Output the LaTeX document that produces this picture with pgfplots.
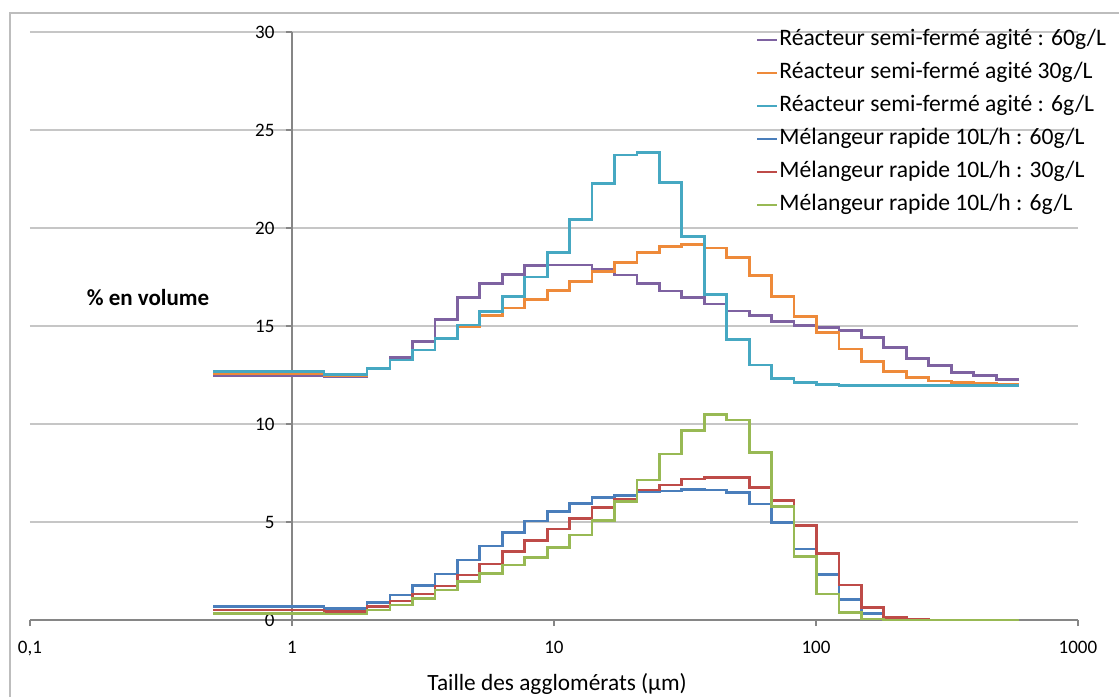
\documentclass[border=0pt]{standalone}
\usepackage{pgfplots}
\usepackage{pgfplotstable}
\pgfplotsset{compat=1.18}
\usepackage{fontspec}
\setmainfont{Carlito}

\definecolor{cPur}{HTML}{7E62A1}
\definecolor{cOra}{HTML}{EE8A3A}
\definecolor{cCya}{HTML}{46A8C2}
\definecolor{cBlu}{HTML}{4A7EBB}
\definecolor{cRed}{HTML}{BE4B48}
\definecolor{cGre}{HTML}{98B954}
\definecolor{axisgray}{HTML}{868686}
\definecolor{gridgray}{HTML}{C6C6C6}
\definecolor{framegray}{HTML}{BDBDBD}

\pgfplotstableread{
x      p60    o30    c6     b60   r30   g6
0.5    12.45  12.57  12.68  0.68  0.51  0.34
1.325  12.41  12.47  12.54  0.58  0.43  0.31
1.933  12.82  12.84  12.84  0.88  0.68  0.51
2.366  13.38  13.27  13.27  1.28  0.97  0.77
2.883  14.20  13.78  13.78  1.75  1.33  1.10
3.512  15.34  14.37  14.37  2.35  1.73  1.53
4.277  16.45  14.97  15.05  3.06  2.30  1.96
5.210  17.18  15.53  15.73  3.78  2.86  2.38
6.346  17.64  15.92  16.50  4.47  3.49  2.81
7.730  18.07  16.36  17.50  5.05  4.06  3.20
9.417  18.11  16.80  18.74  5.53  4.64  3.71
11.47  18.11  17.26  20.44  5.93  5.18  4.34
13.97  17.89  17.77  22.28  6.24  5.75  5.07
17.02  17.60  18.25  23.72  6.36  6.17  6.04
20.73  17.18  18.74  23.86  6.55  6.63  7.14
25.25  16.79  19.05  22.33  6.58  6.89  8.47
30.76  16.46  19.17  19.56  6.67  7.19  9.66
37.47  16.12  18.98  16.60  6.63  7.26  10.49
45.64  15.77  18.50  14.32  6.50  7.28  10.20
55.59  15.52  17.56  13.01  5.92  6.77  8.55
67.72  15.22  16.50  12.33  4.97  6.09  5.78
82.49  15.02  15.48  12.11  3.62  4.81  3.23
100.5  14.93  14.66  12.03  2.34  3.40  1.33
122.4  14.76  13.83  11.98  1.05  1.79  0.39
149.1  14.42  13.18  11.97  0.34  0.63  0.05
181.6  13.91  12.67  11.97  0.05  0.12  0.00
221.2  13.35  12.36  11.97  0.00  0.03  0.00
269.5  12.98  12.19  11.97  0.00  0.00  0.00
328.3  12.62  12.11  11.97  0.00  0.00  0.00
399.9  12.47  12.07  11.97  0.00  0.00  0.00
487.1  12.28  12.04  11.97  0.00  0.00  0.00
593.3  12.28  12.04  11.97  0.00  0.00  0.00
}\data

\begin{document}
\begin{tikzpicture}[x=1pt,y=1pt]
\useasboundingbox (0,0) rectangle (1119,697);
\draw[framegray, line width=1.2pt] (10,0) -- (10,684) -- (1119,684);
\begin{axis}[
  at={(30pt,77pt)}, anchor=south west,
  scale only axis, width=1048pt, height=588pt,
  xmode=log, xmin=0.1, xmax=1000, ymin=0, ymax=30,
  axis x line=bottom, axis y line=center,
  axis line style={-, draw=axisgray, line width=1.2pt},
  hide obscured x ticks=false, hide obscured y ticks=false,
  xtick={0.1,1,10,100,1000}, xticklabels={{0,1},1,10,100,1000},
  ytick={0,5,10,15,20,25,30},
  xminorticks=false, yminorticks=false,
  tick align=outside, major tick length=6pt,
  every tick/.style={axisgray, line width=1.2pt},
  ymajorgrids, grid style={gridgray, line width=1.2pt},
  /pgf/number format/assume math mode=true,
  tick label style={font=\fontsize{19}{21}\selectfont, text=black},
  xticklabel style={yshift=-12pt},
  yticklabel style={xshift=-8pt},
  xlabel={Taille des agglomérats (µm)},
  xlabel style={at={(rel axis cs:0.503,0)}, anchor=center, yshift=-64pt, font=\fontsize{23.3}{26}\selectfont},
  legend style={at={(0.69,1.008)}, anchor=north west, draw=none, fill=none,
    font=\fontsize{23.6}{26}\selectfont, row sep=12pt,
    nodes={inner xsep=1pt, inner ysep=0pt, text height=16pt, text depth=5pt}},
  legend cell align=left,
  legend image code/.code={\draw[#1, line width=2.2pt] (0pt,0pt) -- (20pt,0pt);},
  every axis plot/.append style={const plot, line width=2.8pt, mark=none},
]
\addplot[cPur] table[x=x, y=p60] {\data};
\addlegendentry{Réacteur semi-fermé agité : 60g/L}
\addplot[cOra] table[x=x, y=o30] {\data};
\addlegendentry{Réacteur semi-fermé agité 30g/L}
\addplot[cCya] table[x=x, y=c6] {\data};
\addlegendentry{Réacteur semi-fermé agité : 6g/L}
\addplot[cBlu] table[x=x, y=b60] {\data};
\addlegendentry{Mélangeur rapide 10L/h : 60g/L}
\addplot[cRed] table[x=x, y=r30] {\data};
\addlegendentry{Mélangeur rapide 10L/h : 30g/L}
\addplot[cGre] table[x=x, y=g6] {\data};
\addlegendentry{Mélangeur rapide 10L/h : 6g/L}
\node[font=\bfseries\fontsize{23}{26}\selectfont] at (rel axis cs:0.1126,0.549) {\% en volume};
\end{axis}
\end{tikzpicture}
\end{document}
